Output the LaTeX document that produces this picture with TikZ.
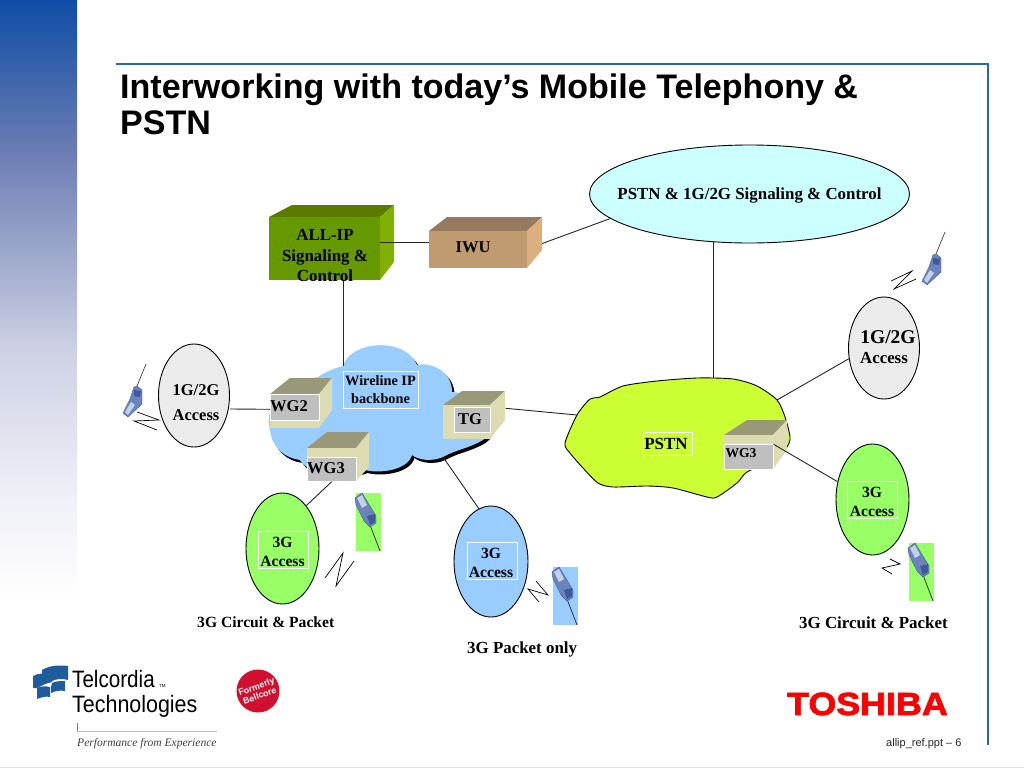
\documentclass[tikz,border=0pt]{standalone}
\usepackage{fontspec}
\setmainfont{Liberation Serif}
\setsansfont{Liberation Sans}
\newfontfamily\telc[FakeStretch=0.87]{Liberation Sans}
\newfontfamily\telcb[FakeStretch=0.905]{Liberation Sans}
\newfontfamily\tosh[FakeBold=2.5,FakeStretch=1.12]{Liberation Sans Bold}
\usetikzlibrary{shapes.geometric}
\definecolor{allipfront}{HTML}{669900}
\definecolor{alliptop}{HTML}{5A7A00}
\definecolor{allipside}{HTML}{80B000}
\definecolor{iwufront}{HTML}{BF9B6F}
\definecolor{iwutop}{HTML}{967A5E}
\definecolor{iwuside}{HTML}{DCAF7E}
\definecolor{wgfront}{HTML}{DCDCB0}
\definecolor{wgtop}{HTML}{99997A}
\definecolor{wgside}{HTML}{DCDCB0}
\definecolor{labgray}{HTML}{BFBFBF}
\definecolor{cloudblue}{HTML}{99CCFF}
\definecolor{pstnlime}{HTML}{CCFF33}
\definecolor{sigcyan}{HTML}{CCFFFF}
\definecolor{greyacc}{HTML}{EBEBEB}
\definecolor{gthree}{HTML}{99FF66}
\definecolor{frameblue}{HTML}{2F64A8}
\definecolor{telblue}{HTML}{1F5C9E}
\definecolor{phonebody}{HTML}{6C84BC}
\definecolor{phonedark}{HTML}{3F5A98}
\definecolor{phonelight}{HTML}{C5D0E8}
\definecolor{bellred}{HTML}{D0102E}
\pgfdeclareverticalshading{sidebar}{100bp}{rgb(0bp)=(1,1,1); rgb(25bp)=(1,1,1); rgb(33.33bp)=(.941,.941,.973); rgb(45.83bp)=(.804,.82,.89); rgb(62.5bp)=(.42,.486,.702); rgb(75bp)=(.059,.302,.647); rgb(100bp)=(.059,.302,.647)}
\newcommand{\fsz}[1]{\fontsize{#1}{20.5}\selectfont\bfseries}
% fx1 fy1 fx2 fy2 bx1 bx2 by sy colourprefix
\newcommand{\cubeparts}[9]{%
  \fill[#9top] (#1,#2) -- (#5,#7) -- (#6,#7) -- (#3,#2) -- cycle;
  \fill[#9side] (#3,#2) -- (#6,#7) -- (#6,#8) -- (#3,#4) -- cycle;
  \fill[#9front] (#1,#2) rectangle (#3,#4);
}
\newcommand{\phoneup}[2]{%
  \begin{scope}[shift={(#1,#2)}]
    \draw[line width=.7pt,black!75] (146,364) -- (137,386);
    \fill[phonebody,draw=phonedark,line width=.4pt] (134,387) -- (137,386) -- (142,390) -- (142,404) -- (128,417) -- (123,413) -- (130,399) -- cycle;
    \fill[phonelight] (125,412) -- (131,402) -- (135,405) -- (128,415) -- cycle;
    \fill[phonedark] (134,390) -- (141,391) -- (140,397) -- (134,396) -- cycle;
  \end{scope}}
\newcommand{\phonedown}[3]{%
  \begin{scope}[shift={(#1,#2)}]
    \fill[#3] (909,543) rectangle (934,601);
    \draw[line width=.7pt,black!85] (933,601) -- (923,575);
    \fill[phonebody,draw=phonedark,line width=.4pt] (908,548) -- (915,543) -- (929,566) -- (929,573) -- (923,577) -- (917,571) -- (909,555) -- cycle;
    \fill[phonelight] (910,548) -- (915,545) -- (920,555) -- (915,558) -- cycle;
    \fill[phonedark] (920,566) -- (928,564) -- (928,572) -- (923,575) -- cycle;
  \end{scope}}
\tikzset{
  wire/.style={draw=black!85,line width=.9pt},
  zig/.style={draw=black,line width=.7pt},
  bubble/.style={ellipse,draw=black,line width=.9pt,inner sep=0pt,align=center},
  labbox/.style={draw=white,line width=.6pt,inner sep=0pt,align=center,minimum width=#1},
  graylab/.style={rectangle,fill=labgray,draw=white,line width=.6pt,inner sep=0pt},
  plain/.style={inner sep=0pt,align=center},
}
\begin{document}
\begin{tikzpicture}[x=1pt,y=-1pt]
\useasboundingbox (0,0) rectangle (1024,768);
\fill[white] (0,0) rectangle (1024,768);
% side bar
\shade[shading=sidebar] (0,0) rectangle (77,600);
% frame
\draw[frameblue,line width=1.2pt] (116,64) -- (988,64) -- (988,745);
\draw[black!12,line width=1pt] (0,767.5) -- (1024,767.5);
% title
\node[anchor=base west,inner sep=0pt,font=\fontsize{34.05}{36}\selectfont\sffamily\bfseries] (title1) at (120,98) {Interworking with today’s Mobile Telephony \&};
\node[anchor=base west,inner sep=0pt,font=\fontsize{34.05}{36}\selectfont\sffamily\bfseries] (title2) at (120,134) {PSTN};
% cloud
\def\cloudpath{(270,430) .. controls (262,405) and (290,380) .. (318,377) .. controls (325,372) and (335,368) .. (343,366) .. controls (350,341) and (405,336) .. (417,365) .. controls (430,362) and (452,370) .. (452,392) .. controls (478,392) and (505,425) .. (483,440) .. controls (470,448) and (455,450) .. (443,457) .. controls (432,462) and (418,460) .. (412,455) .. controls (408,470) and (380,474) .. (365,470) .. controls (340,480) and (305,472) .. (300,460) .. controls (285,458) and (272,448) .. cycle}
\fill[black,shift={(2.5,3)}] \cloudpath;
\fill[cloudblue] \cloudpath;
\coordinate (cloudtop) at (343,366);
\coordinate (cloudse) at (443,457);
% PSTN cloud
\path[fill=pstnlime,draw=black,line width=.9pt] plot[smooth cycle,tension=.45] coordinates {(565,443) (577,415) (590,399) (600,397) (623,386) (657,381) (697,378) (733,379) (757,386) (777,400) (785,417) (790,437) (787,447) (773,460) (747,472) (737,483) (717,497) (707,497) (673,488) (647,486) (613,487) (598,483) (583,468) (570,453)};
\coordinate (pstntop) at (713,378);
\coordinate (pstnwest) at (577,415);
\coordinate (pstnne) at (777,400);
% cubes
\cubeparts{269}{217}{380}{280}{292}{394}{205}{262}{allip}
\cubeparts{429}{231}{527}{268}{447}{542}{217}{250}{iwu}
\cubeparts{270}{394}{319}{428}{290}{332}{378}{410}{wg}
\cubeparts{307}{448}{356}{481}{327}{369}{432}{467}{wg}
\cubeparts{443}{405}{490}{439}{462}{505}{391}{420}{wg}
\cubeparts{724}{435}{773}{469}{747}{787}{420}{450}{wg}
\node[plain,minimum width=111pt,minimum height=63pt] (allip) at (324.5,248.5) {};
\node[plain,minimum width=98pt,minimum height=37pt] (iwu) at (478,249.5) {};
% ellipses
\node[bubble,fill=sigcyan,minimum width=320pt,minimum height=98pt] (sig) at (749.5,194) {};
\node[bubble,fill=greyacc,minimum width=71pt,minimum height=103pt] (accl) at (194,395.5) {};
\node[bubble,fill=greyacc,minimum width=71pt,minimum height=102pt] (accr) at (884,348) {};
\node[bubble,fill=gthree,minimum width=73pt,minimum height=111pt] (tgr) at (872.5,499.5) {};
\node[bubble,fill=gthree,minimum width=73pt,minimum height=111pt] (tgl) at (282.5,548.5) {};
\node[bubble,fill=cloudblue,minimum width=74pt,minimum height=111pt] (tgp) at (491,561.5) {};
% labels on boxes
\node[graylab,minimum width=49pt,minimum height=26pt,anchor=north west] (wgtwo) at (270,394) {};
\node[graylab,minimum width=49pt,minimum height=24pt,anchor=north west] (wgthree) at (307,457) {};
\node[graylab,minimum width=36pt,minimum height=25pt,anchor=north west] (tgbox) at (454,407) {};
\node[graylab,minimum width=49pt,minimum height=25pt,anchor=north west] (wgfour) at (724,444) {};
\node[labbox=75pt,minimum height=37pt] (wire) at (380.5,389.5) {};
\node[labbox=49pt,minimum height=23pt] (pstn) at (667.5,443.5) {};
\node[labbox=50pt,minimum height=37pt] (boxr) at (872,499.5) {};
\node[labbox=50pt,minimum height=37pt] (boxl) at (283,549.5) {};
\node[labbox=50pt,minimum height=37pt] (boxp) at (492,560.5) {};
% connectors
\draw[wire] ([yshift=6pt]allip.east) -- ([yshift=7pt]iwu.west);
\draw[wire] ([xshift=15pt,yshift=6pt]iwu.east) -- (sig.190);
\draw[wire] ([xshift=-36.5pt,yshift=1.3pt]sig.south) -- (pstntop);
\draw[wire] ([xshift=18.5pt]allip.south) -- (cloudtop);
\draw[wire] ([yshift=-13.5pt]accl.east) -- ([yshift=-2pt]wgtwo.west);
\draw[wire] (wgthree.south) -- (tgl.61);
\draw[wire] (cloudse) -- (tgp.103);
\draw[wire] ([xshift=15pt,yshift=11.5pt]tgbox.east) -- (pstnwest);
\draw[wire] (pstnne) -- (accr.197);
\draw[wire] ([yshift=12.5pt]wgfour.east) -- (tgr.153);
% texts
\node[plain,font=\fsz{16.9}] (alliptxt) at (325,256) {ALL-IP\\Signaling \&\\Control};
\node[plain,font=\fsz{16.5}] (iwutxt) at (473,247) {IWU};
\node[plain,font=\fsz{16.9}] (sigtxt) at (749.5,195) {PSTN \& 1G/2G Signaling \& Control};
\node[plain,font=\fsz{16.5},text height=12pt,text depth=0pt] (acca) at (196,389) {1G/2G};
\node[plain,font=\fsz{16.5},text height=12pt,text depth=0pt] (accb) at (196,414) {Access};
\node[plain,font=\fsz{19.5},text height=14pt,text depth=0pt] (accc) at (888,336) {1G/2G};
\node[plain,font=\fsz{16.8},text height=12pt,text depth=0pt] (accd) at (884,357) {Access};
\node[plain,font=\fsz{16.5}] (wgtwot) at (289,406) {WG2};
\node[plain,font=\fsz{16.5}] (wgthreet) at (326,468) {WG3};
\node[plain,font=\fsz{16.5}] (tgt) at (470,419) {TG};
\node[plain,font=\fsz{13.6}] (wgfourt) at (741,453) {WG3};
\node[plain,font=\fontsize{14.3}{17.5}\selectfont\bfseries] (wiret) at (380.5,389.5) {Wireline IP\\backbone};
\node[plain,font=\fsz{17}] (pstnt) at (666,444) {PSTN};
\node[plain,font=\fontsize{15.6}{19}\selectfont\bfseries] (tgrt) at (872,502) {3G\\Access};
\node[plain,font=\fontsize{15.6}{19}\selectfont\bfseries] (tglt) at (282.5,551.5) {3G\\Access};
\node[plain,font=\fontsize{15.6}{19}\selectfont\bfseries] (tgpt) at (491,563) {3G\\Access};
\node[plain,font=\fontsize{15.6}{18}\selectfont\bfseries,anchor=base west] (capl) at (197,627) {3G Circuit \& Packet};
\node[plain,font=\fsz{16.9},anchor=base west] (capp) at (467,653) {3G Packet only};
\node[plain,font=\fsz{16.9},anchor=base west] (capr) at (799,628) {3G Circuit \& Packet};
% phones
\phoneup{0}{0}
\phoneup{799}{-132}
\phonedown{0}{0}{gthree}
\phonedown{-553}{-50}{gthree}
\phonedown{-356}{24}{cloudblue}
% zigzags
\draw[zig] (137,412) -- (159,420) -- (134,421) -- (157,430);
\draw[zig] (916,279) -- (894,289) -- (912,271) -- (891,281);
\draw[zig] (890,559) -- (900,564) -- (882,568) -- (892,574);
\draw[zig] (325,578) -- (343,553) -- (336,586) -- (354,561);
\draw[zig] (536,581) -- (548,595) -- (528,589) -- (539,602);
% Telcordia logo
\fill[telblue] (42,670) .. controls (50,665) and (60,665) .. (68,666) -- (68,680) .. controls (62,678) and (56,679) .. (52,681) -- (52,674) -- (42,674) -- cycle;
\fill[telblue] (33,676) .. controls (38,673) and (46,673) .. (52,674) -- (52,682) -- (45,684) -- (37,688) -- (33,688) -- cycle;
\fill[telblue] (52,683) .. controls (56,681) and (61,681) .. (65,681) -- (65,691) .. controls (60,690) and (55,691) .. (51,693) -- (51,687) -- cycle;
\fill[telblue] (37,688) .. controls (41,686) and (46,686) .. (50,687) -- (50,697) .. controls (46,696) and (42,697) .. (37,699) -- cycle;
\node[anchor=base west,inner sep=0pt,font=\fontsize{23.7}{24}\telc] (telcordia) at (72,687) {Telcordia};
\node[anchor=base west,inner sep=0pt,font=\fontsize{4.5}{5}\sffamily] (tm) at (159,687) {TM};
\node[anchor=base west,inner sep=0pt,font=\fontsize{23.7}{24}\telcb] (technologies) at (72,712) {Technologies};
\draw[black!25,line width=.6pt] (77,731) -- (217,731);
\draw[black!50,line width=.6pt] (77,723) -- (77,731);
\node[anchor=base west,inner sep=0pt,font=\fontsize{11.55}{12}\selectfont\itshape,text=black!75] (perf) at (77,746) {Performance from Experience};
\node[circle,fill=bellred,minimum size=43pt,inner sep=0pt] (bell) at (258,691) {};
\node[plain,rotate=20,text=white,font=\fontsize{8.8}{9.5}\selectfont\sffamily\bfseries] (bellt) at (258,691) {Formerly\\Bellcore};
% Toshiba
\node[anchor=base west,inner sep=0pt,text={rgb,255:red,255;green,0;blue,0},font=\fontsize{32}{32}\tosh] (toshiba) at (787,715) {TOSHIBA};
\node[anchor=base west,inner sep=0pt,font=\fontsize{11}{12}\selectfont\sffamily,text=black!85] (pg) at (886,746) {allip\_ref.ppt – 6};
\end{tikzpicture}
\end{document}
